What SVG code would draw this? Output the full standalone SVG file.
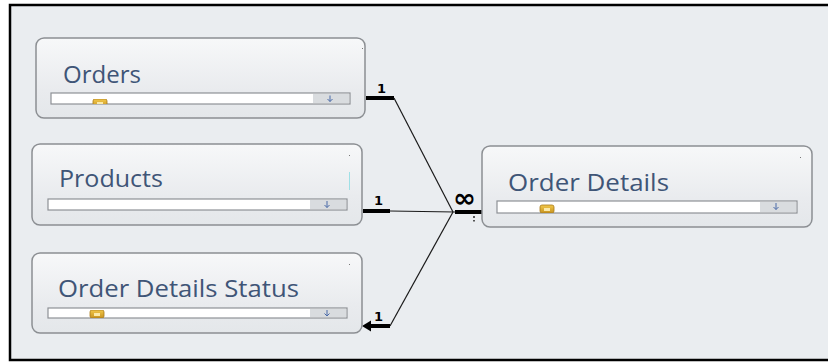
<svg xmlns="http://www.w3.org/2000/svg" width="828" height="362" viewBox="0 0 828 362">
<defs>
<linearGradient id="boxg" x1="0" y1="0" x2="0" y2="1">
<stop offset="0" stop-color="#f7f8f9"/>
<stop offset="0.65" stop-color="#e9ebee"/>
<stop offset="1" stop-color="#e4e7ea"/>
</linearGradient>
<linearGradient id="lockg" x1="0" y1="0" x2="0" y2="1">
<stop offset="0" stop-color="#f2c84b"/>
<stop offset="1" stop-color="#c89420"/>
</linearGradient>
<g id="lock">
<rect x="0" y="0" width="14" height="8" rx="2" fill="url(#lockg)" stroke="#a87a18" stroke-width="0.8"/>
<rect x="4" y="3" width="6" height="3" fill="#fbe9a8"/>
</g>
</defs>
<style>
.box{fill:url(#boxg);stroke:#8c8f93;stroke-width:1.5}
.title{font-family:"Segoe UI","Open Sans","Liberation Sans",sans-serif;font-size:24px;fill:#3f5577}
.bar{fill:#ffffff;stroke:#8e9196;stroke-width:1.2}
.scroll{fill:#d9dcdf}
.sarrow{stroke:#4a6aa8;stroke-width:1;fill:none}
.thin{stroke:#1a1a1a;stroke-width:1.2;fill:none}
.thick{stroke:#000;stroke-width:4;fill:none}
.lbl{font-family:"DejaVu Sans","Liberation Sans",sans-serif;font-size:13px;font-weight:bold;fill:#000}
.dot{fill:#555}
</style>
<rect x="0" y="0" width="828" height="362" fill="#ffffff"/>
<rect x="10" y="5" width="820" height="355" fill="#eaedf0" stroke="#000" stroke-width="2.5"/>

<g id="connectors">
<line class="thick" x1="366" y1="98" x2="394" y2="98"/>
<line class="thin" x1="394" y1="98" x2="453" y2="212"/>
<line class="thick" x1="363" y1="211" x2="390" y2="211"/>
<line class="thin" x1="390" y1="211" x2="455" y2="212"/>
<line class="thick" x1="455" y1="212" x2="482" y2="212"/>
<line class="thin" x1="453" y1="212" x2="390" y2="326"/>
<line class="thick" x1="390" y1="326" x2="370" y2="326"/>
<path d="M362,326 L371,320.5 L371,331.5 Z" fill="#000"/>
<text class="lbl" x="377" y="93">1</text>
<text class="lbl" x="374" y="205">1</text>
<text class="lbl" x="374" y="321">1</text>
<text x="453" y="207" font-family="DejaVu Sans, sans-serif" font-size="26" font-weight="bold" fill="#000" textLength="23" lengthAdjust="spacingAndGlyphs">∞</text>
<rect class="dot" x="473" y="216" width="2" height="2"/>
<rect class="dot" x="473" y="220" width="2" height="1.5"/>
</g>

<g id="orders">
<rect class="box" x="36" y="38" width="329" height="80" rx="8"/>
<rect x="362" y="48" width="1" height="1" fill="#777"/>
<text class="title" x="63" y="83" textLength="78" lengthAdjust="spacingAndGlyphs">Orders</text>
<rect class="bar" x="51" y="93" width="299" height="11"/>
<rect class="scroll" x="313" y="94" width="36" height="9"/>
<path class="sarrow" d="M330,95.5 V101.5 M327.5,99 L330,101.5 L332.5,99"/>
<svg x="92" y="99" width="16" height="5" overflow="hidden"><use href="#lock" x="1" y="0"/></svg>
</g>

<g id="products">
<rect class="box" x="32" y="144" width="330" height="81" rx="8"/>
<rect x="349" y="155" width="1" height="1" fill="#777"/>
<rect x="349" y="172" width="1" height="18" fill="#9fe0e6"/>
<text class="title" x="59" y="187" textLength="104" lengthAdjust="spacingAndGlyphs">Products</text>
<rect class="bar" x="48" y="199" width="299" height="11"/>
<rect class="scroll" x="310" y="200" width="36" height="9"/>
<path class="sarrow" d="M327,201 V207.5 M324.5,205 L327,207.5 L329.5,205"/>
</g>

<g id="order-details-status">
<rect class="box" x="32" y="253" width="330" height="80" rx="8"/>
<rect x="349" y="264" width="1" height="1" fill="#777"/>
<text class="title" x="58" y="297" textLength="241" lengthAdjust="spacingAndGlyphs">Order Details Status</text>
<rect class="bar" x="48" y="308" width="299" height="10"/>
<rect class="scroll" x="310" y="309" width="36" height="8"/>
<path class="sarrow" d="M327,310 V316 M324.5,313.5 L327,316 L329.5,313.5"/>
<svg x="89" y="310" width="16" height="8" overflow="hidden"><use href="#lock" x="1" y="0"/></svg>
</g>

<g id="order-details">
<rect class="box" x="482" y="146" width="330" height="81" rx="8"/>
<rect x="800" y="157" width="1" height="1" fill="#777"/>
<text class="title" x="508" y="191" textLength="161" lengthAdjust="spacingAndGlyphs">Order Details</text>
<rect class="bar" x="497" y="201" width="300" height="12"/>
<rect class="scroll" x="760" y="202" width="36" height="10"/>
<path class="sarrow" d="M776,203 V209.5 M773.5,207 L776,209.5 L778.5,207"/>
<svg x="539" y="202" width="16" height="11" overflow="hidden"><use href="#lock" x="1" y="3"/></svg>
</g>
</svg>
